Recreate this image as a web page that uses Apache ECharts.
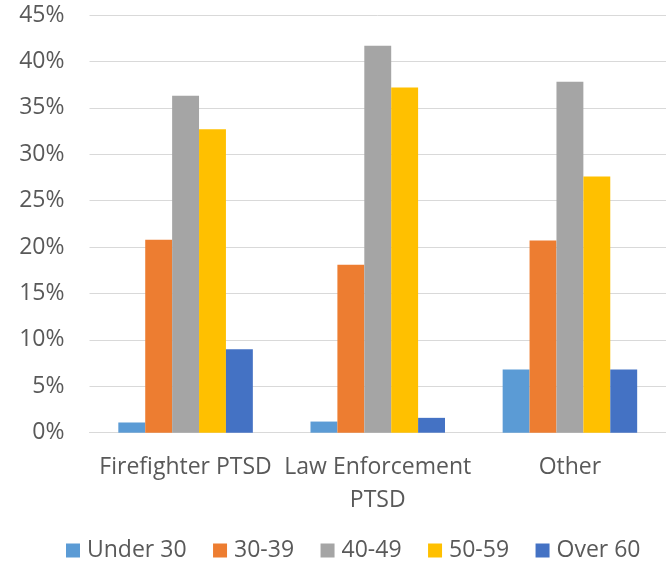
<!DOCTYPE html>
<html>
<head>
<meta charset="utf-8">
<script src="https://cdn.jsdelivr.net/npm/echarts@6/dist/echarts.min.js"></script>
<style>
  html, body { margin: 0; padding: 0; background: #fff; }
  #chart { width: 666px; height: 561px; }
</style>
</head>
<body>
<div id="chart"></div>
<script>
// Age distribution (% of cases) by claim type
const categories = ['Firefighter PTSD', 'Law Enforcement\nPTSD', 'Other'];
const seriesNames = ['Under 30', '30-39', '40-49', '50-59', 'Over 60'];
const under30 = [1.1, 1.2, 6.8];
const age30to39 = [20.8, 18.1, 20.7];
const age40to49 = [36.3, 41.7, 37.8];
const age50to59 = [32.7, 37.2, 27.6];
const over60 = [9.0, 1.6, 6.8];
const yTicks = { min: 0, max: 45, interval: 5 };
const colors = ['#5B9BD5', '#ED7D31', '#A5A5A5', '#FFC000', '#4472C4'];

const values = [under30, age30to39, age40to49, age50to59, over60];
const textColor = '#595959';
const fontFamily = '"Open Sans", "Noto Sans", sans-serif';

const chart = echarts.init(document.getElementById('chart'), null, { renderer: 'canvas' });
chart.setOption({
  animation: false,
  color: colors,
  grid: { left: 89.5, top: 15, width: 582, bottom: 128.3, containLabel: false },
  legend: {
    data: seriesNames,
    left: 61,
    top: 534,
    itemWidth: 14,
    itemHeight: 14,
    itemGap: 26.5,
    icon: 'rect',
    textStyle: { color: textColor, fontSize: 23, fontFamily: fontFamily, padding: [0, 0, 0, 2] }
  },
  xAxis: {
    type: 'category',
    data: categories,
    axisLine: { show: true, lineStyle: { color: '#d9d9d9', width: 1 } },
    axisTick: { show: false },
    axisLabel: {
      color: textColor, fontSize: 23, fontFamily: fontFamily,
      lineHeight: 33, margin: 18, interval: 0
    }
  },
  yAxis: {
    type: 'value',
    min: yTicks.min,
    max: yTicks.max,
    interval: yTicks.interval,
    axisLine: { show: false },
    axisTick: { show: false },
    splitLine: { lineStyle: { color: '#d9d9d9', width: 1 } },
    axisLabel: {
      color: textColor, fontSize: 23, fontFamily: fontFamily,
      margin: 25, formatter: '{value}%'
    }
  },
  series: seriesNames.map((name, i) => ({
    name: name,
    type: 'bar',
    data: values[i],
    barGap: '0%',
    barCategoryGap: '30%',
    itemStyle: { color: colors[i] }
  }))
});
</script>
</body>
</html>
